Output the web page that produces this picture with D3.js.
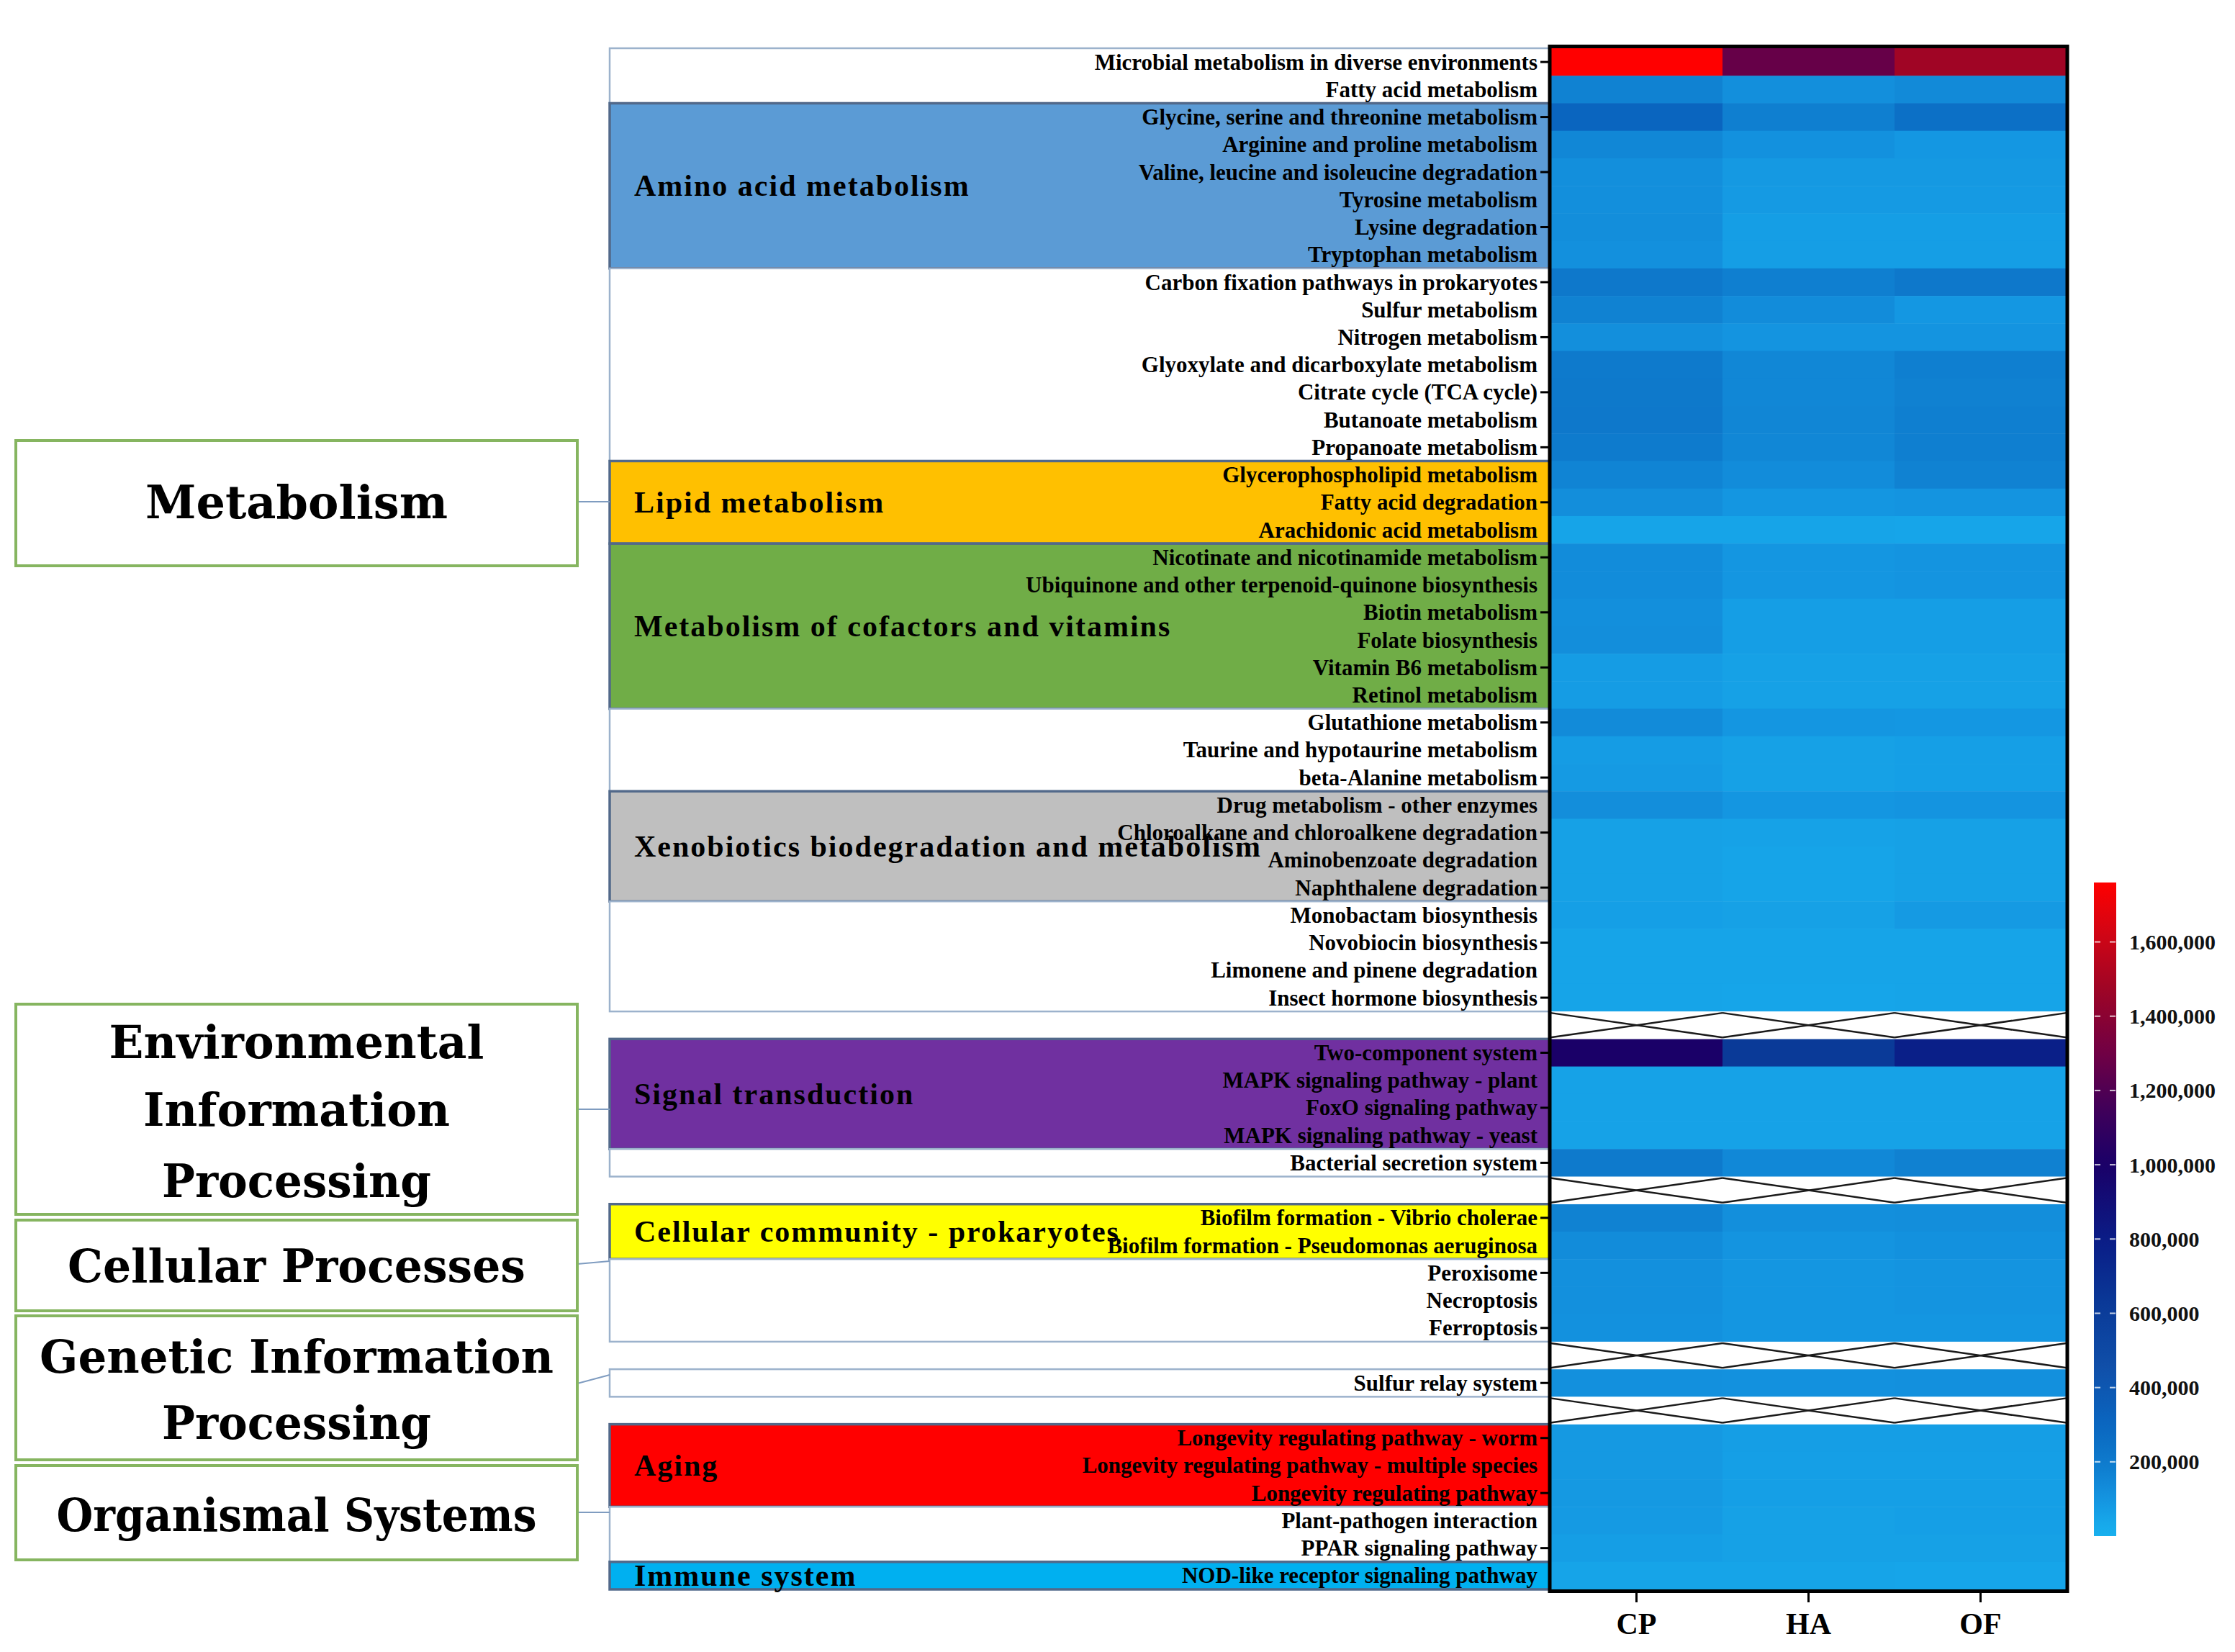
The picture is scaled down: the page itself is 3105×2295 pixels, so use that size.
<!DOCTYPE html>
<html><head><meta charset="utf-8">
<script src="https://cdn.jsdelivr.net/npm/d3@7"></script>
<style>body{margin:0;background:#fff}svg{display:block}</style>
</head><body>
<svg id="chart" width="3105" height="2295"></svg>
<script>
// ---------------- DATA ----------------
const pathways = [
 "Microbial metabolism in diverse environments","Fatty acid metabolism",
 "Glycine, serine and threonine metabolism","Arginine and proline metabolism",
 "Valine, leucine and isoleucine degradation","Tyrosine metabolism","Lysine degradation",
 "Tryptophan metabolism","Carbon fixation pathways in prokaryotes","Sulfur metabolism",
 "Nitrogen metabolism","Glyoxylate and dicarboxylate metabolism","Citrate cycle (TCA cycle)",
 "Butanoate metabolism","Propanoate metabolism","Glycerophospholipid metabolism",
 "Fatty acid degradation","Arachidonic acid metabolism","Nicotinate and nicotinamide metabolism",
 "Ubiquinone and other terpenoid-quinone biosynthesis","Biotin metabolism","Folate biosynthesis",
 "Vitamin B6 metabolism","Retinol metabolism","Glutathione metabolism",
 "Taurine and hypotaurine metabolism","beta-Alanine metabolism","Drug metabolism - other enzymes",
 "Chloroalkane and chloroalkene degradation","Aminobenzoate degradation","Naphthalene degradation",
 "Monobactam biosynthesis","Novobiocin biosynthesis","Limonene and pinene degradation",
 "Insect hormone biosynthesis","Two-component system","MAPK signaling pathway - plant",
 "FoxO signaling pathway","MAPK signaling pathway - yeast","Bacterial secretion system",
 "Biofilm formation - Vibrio cholerae","Biofilm formation - Pseudomonas aeruginosa",
 "Peroxisome","Necroptosis","Ferroptosis","Sulfur relay system",
 "Longevity regulating pathway - worm","Longevity regulating pathway - multiple species",
 "Longevity regulating pathway","Plant-pathogen interaction","PPAR signaling pathway",
 "NOD-like receptor signaling pathway"
];
const samples = ["CP","HA","OF"];
const cpValues = [1760000,170000,310000,150000,120000,120000,125000,115000,210000,170000,
 120000,200000,205000,210000,195000,160000,125000,50000,130000,130000,
 120000,125000,75000,75000,135000,75000,80000,125000,60000,60000,
 60000,65000,50000,50000,48000,1000000,55000,55000,55000,200000,
 170000,130000,115000,115000,110000,115000,85000,85000,85000,80000,70000,50000];
const haValues = [1270000,120000,180000,110000,85000,80000,70000,70000,180000,130000,
 100000,150000,150000,155000,150000,130000,95000,50000,95000,95000,
 70000,70000,60000,60000,95000,60000,60000,95000,55000,50000,
 50000,60000,50000,48000,45000,620000,55000,55000,55000,145000,
 120000,100000,95000,95000,95000,110000,70000,65000,65000,60000,60000,50000];
const ofValues = [1480000,140000,250000,90000,85000,80000,70000,70000,210000,90000,
 100000,180000,175000,180000,180000,170000,100000,45000,100000,100000,
 70000,70000,60000,60000,90000,65000,65000,100000,60000,60000,
 60000,80000,50000,50000,48000,780000,55000,55000,55000,175000,
 125000,110000,100000,100000,95000,115000,70000,65000,65000,65000,60000,45000];
const gapAfterRow = [35, 40, 45, 46];           // axis breaks after these rows (1-based)
const subcategoryNames = ["", "Amino acid metabolism", "", "Lipid metabolism",
 "Metabolism of cofactors and vitamins", "", "Xenobiotics biodegradation and metabolism", "",
 "Signal transduction", "", "Cellular community - prokaryotes", "", "", "Aging", "", "Immune system"];
const subcategoryFirstRow = [1,3,9,16,19,25,28,32,36,40,41,43,46,47,50,52];
const subcategoryLastRow  = [2,8,15,18,24,27,31,35,39,40,42,45,46,49,51,52];
const topCategoryLines = [["Metabolism"],["Environmental","Information","Processing"],
 ["Cellular Processes"],["Genetic Information","Processing"],["Organismal Systems"]];
const colorbarTicks = [200000,400000,600000,800000,1000000,1200000,1400000,1600000];

// ---------------- STYLE / LAYOUT ----------------
const subcategoryColors = ["#ffffff","#5b9bd5","#ffffff","#ffc000","#70ad47","#ffffff","#bfbfbf","#ffffff",
 "#7030a0","#ffffff","#ffff00","#ffffff","#ffffff","#ff0000","#ffffff","#00b0f0"];
const colorDomain = [0,50000,100000,200000,300000,450000,620000,800000,1000000,1150000,1300000,1480000,1620000,1760000];
const colorRange = ["#18b0ee","#16a4e8","#1494e0","#0e7acc","#0a66c0","#1050aa","#0a3a98","#0a1c86",
 "#1a0068","#40005a","#700044","#a00525","#d00515","#ff0000"];
const bigLayout = [
 {y0:612, y1:786, lineY:[697], lineW:[420], link:[697,697]},
 {y0:1395, y1:1687, lineY:[1447,1541,1640], lineW:[521,426,374], link:[1541,1541]},
 {y0:1695, y1:1821, lineY:[1758], lineW:[636], link:[1756,1752]},
 {y0:1828, y1:2028, lineY:[1884,1976], lineW:[714,374], link:[1922,1910]},
 {y0:2036, y1:2167, lineY:[2104], lineW:[667], link:[2101,2101]}
];
const HM = {x0:2154, x1:2871, y0:67, y1:2208};
const SUBX = 847;

const svg = d3.select("#chart");
const nSlots = pathways.length + gapAfterRow.length;
const y = d3.scaleBand().domain(d3.range(nSlots)).range([HM.y0, HM.y1]);
const x = d3.scaleBand().domain(samples).range([HM.x0, HM.x1]);
const color = d3.scaleLinear().domain(colorDomain).range(colorRange).interpolate(d3.interpolateRgb).clamp(true);
const slotOf = i => i + gapAfterRow.filter(g => g <= i).length;   // i: 0-based row
const gapSlots = gapAfterRow.map((g,k) => g + k);
const bw = y.bandwidth();

// ---------- subcategory boxes ----------
const subs = subcategoryNames.map((n,k) => ({name:n, color:subcategoryColors[k],
  top:y(slotOf(subcategoryFirstRow[k]-1)), bot:y(slotOf(subcategoryLastRow[k]-1))+bw}));
svg.append("g").selectAll("rect").data(subs).join("rect")
  .attr("x", SUBX).attr("y", d=>d.top).attr("width", HM.x0-SUBX).attr("height", d=>d.bot-d.top)
  .attr("fill", d=>d.color)
  .attr("stroke", d=> d.color==="#ffffff" ? "#9cb2cc" : "#52698a")
  .attr("stroke-width", d=> d.color==="#ffffff" ? 2.5 : 3.5);
svg.append("g").selectAll("text").data(subs.filter(d=>d.name)).join("text")
  .attr("x", 881).attr("y", d=>(d.top+d.bot)/2).attr("dy","0.34em")
  .attr("font-family","Liberation Serif").attr("font-weight","bold").attr("font-size",42).attr("letter-spacing",2)
  .attr("fill","#000").text(d=>d.name);

// ---------- heatmap ----------
const cells = [];
pathways.forEach((p,i) => {
  [cpValues, haValues, ofValues].forEach((arr,j) => cells.push({p, s:samples[j], v:arr[i], slot:slotOf(i)}));
});
svg.append("g").selectAll("rect").data(cells).join("rect")
  .attr("x", d=>x(d.s)).attr("y", d=>y(d.slot)).attr("width", x.bandwidth()+0.5).attr("height", bw+0.5)
  .attr("fill", d=>color(d.v));

// axis breaks
const gx = svg.append("g");
gapSlots.forEach(s => {
  gx.append("rect").attr("x",HM.x0).attr("y",y(s)).attr("width",HM.x1-HM.x0).attr("height",bw).attr("fill","#fff");
  samples.forEach(c => {
    const a = x(c), b = x(c)+x.bandwidth(), t = y(s)+2, u = y(s)+bw-2;
    gx.append("line").attr("x1",a).attr("y1",t).attr("x2",b).attr("y2",u).attr("stroke","#1a1a1a").attr("stroke-width",2.5);
    gx.append("line").attr("x1",a).attr("y1",u).attr("x2",b).attr("y2",t).attr("stroke","#1a1a1a").attr("stroke-width",2.5);
  });
});

// heatmap border
svg.append("rect").attr("x",HM.x0-1).attr("y",HM.y0-2.5).attr("width",HM.x1-HM.x0+2).attr("height",HM.y1-HM.y0+5)
  .attr("fill","none").attr("stroke","#000").attr("stroke-width",5);

// row labels + ticks
const gl = svg.append("g");
gl.selectAll("text").data(pathways).join("text")
  .attr("x", 2136).attr("y", (d,i)=>y(slotOf(i))+bw/2).attr("dy","0.34em")
  .attr("text-anchor","end").attr("font-family","Liberation Serif").attr("font-weight","bold")
  .attr("font-size",31).attr("fill","#000").text(d=>d);
gl.selectAll("line").data(d3.range(nSlots).filter(s => s%2===0 && !gapSlots.includes(s))).join("line")
  .attr("x1",2140).attr("x2",HM.x0).attr("y1",s=>y(s)+bw/2).attr("y2",s=>y(s)+bw/2)
  .attr("stroke","#000").attr("stroke-width",3);

// x axis
const xa = svg.append("g").attr("transform",`translate(0,${HM.y1+5})`)
  .call(d3.axisBottom(x).tickSize(13).tickPadding(14));
xa.select(".domain").remove();
xa.selectAll("line").attr("stroke","#000").attr("stroke-width",3);
xa.selectAll("text").attr("font-family","Liberation Serif").attr("font-weight","bold")
  .attr("font-size",42).attr("fill","#000");

// ---------- colorbar ----------
const cb = {x:2909, w:31, top:1226, bot:2134};
const cy = d3.scaleLinear().domain([0,1760000]).range([cb.bot, cb.top]);
const defs = svg.append("defs");
const grad = defs.append("linearGradient").attr("id","cbg").attr("x1",0).attr("y1",1).attr("x2",0).attr("y2",0);
d3.range(0,1.0001,0.02).forEach(t => grad.append("stop").attr("offset",t).attr("stop-color",color(t*1760000)));
svg.append("rect").attr("x",cb.x).attr("y",cb.top).attr("width",cb.w).attr("height",cb.bot-cb.top).attr("fill","url(#cbg)");
const gt = svg.append("g");
colorbarTicks.forEach(v => {
  gt.append("line").attr("x1",cb.x+1).attr("x2",cb.x+9).attr("y1",cy(v)).attr("y2",cy(v)).attr("stroke","#fff").attr("stroke-opacity",0.75).attr("stroke-width",2);
  gt.append("line").attr("x1",cb.x+cb.w-9).attr("x2",cb.x+cb.w-1).attr("y1",cy(v)).attr("y2",cy(v)).attr("stroke","#fff").attr("stroke-opacity",0.75).attr("stroke-width",2);
  gt.append("text").attr("x",2958).attr("y",cy(v)).attr("dy","0.35em").attr("font-family","Liberation Serif")
    .attr("font-weight","bold").attr("font-size",30).attr("fill","#111").text(d3.format(",")(v));
});

// ---------- top-level category boxes ----------
const gb = svg.append("g");
topCategoryLines.forEach((lines,k) => {
  const L = bigLayout[k];
  gb.append("line").attr("x1",802).attr("y1",L.link[0]).attr("x2",SUBX).attr("y2",L.link[1])
    .attr("stroke","#7f9cc0").attr("stroke-width",2);
  gb.append("rect").attr("x",22).attr("y",L.y0).attr("width",780).attr("height",L.y1-L.y0)
    .attr("fill","#fff").attr("stroke","#86b560").attr("stroke-width",4);
  lines.forEach((t,m) => {
    gb.append("text").attr("x",412).attr("y",L.lineY[m]).attr("dy","0.36em").attr("text-anchor","middle")
      .attr("font-family","DejaVu Serif").attr("font-weight","bold").attr("font-size",64)
      .attr("textLength",L.lineW[m]).attr("lengthAdjust","spacingAndGlyphs").attr("fill","#000").text(t);
  });
});
</script>
</body></html>
